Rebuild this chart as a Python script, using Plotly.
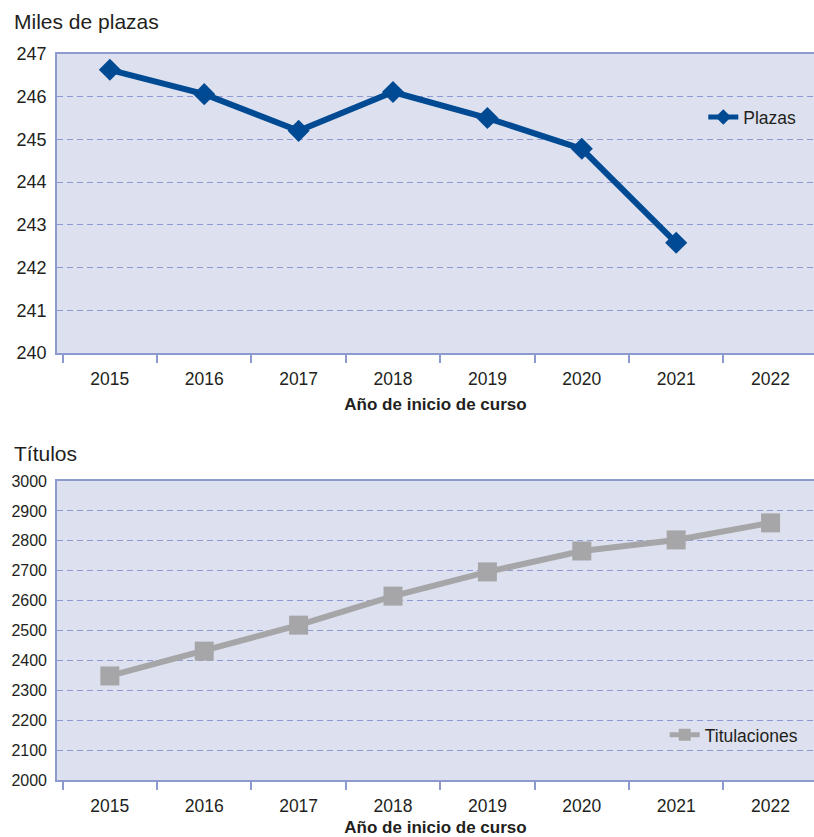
import plotly.graph_objects as go

# Course start years
years = [2015, 2016, 2017, 2018, 2019, 2020, 2021, 2022]

# Offered places (thousands); no figure yet for 2022
plazas = [246.63, 246.06, 245.20, 246.11, 245.50, 244.78, 242.58, None]

# Number of degrees offered
titulaciones = [2348, 2431, 2518, 2615, 2696, 2766, 2803, 2860]

BLUE = "#004A93"
GREY = "#A6A6A8"
BG = "#DDE1EF"
AXIS = "#8D9ACF"
GRID = "#8E9BD3"
TXT = "#231F20"
FONT = "Liberation Sans, Arial, sans-serif"

fig = go.Figure()

fig.add_trace(go.Scatter(
    x=years, y=plazas, name="Plazas", mode="lines+markers",
    line=dict(color=BLUE, width=6),
    marker=dict(symbol="diamond", size=17, color=BLUE),
    xaxis="x", yaxis="y", legend="legend", showlegend=True,
))
fig.add_trace(go.Scatter(
    x=years, y=titulaciones, name="Titulaciones", mode="lines+markers",
    line=dict(color=GREY, width=6),
    marker=dict(symbol="square", size=19, color=GREY),
    xaxis="x2", yaxis="y2", legend="legend2", showlegend=True,
))

xcommon = dict(
    range=[2014.44, 2022.46], tickvals=years, ticks="", showgrid=False,
    tickfont=dict(family=FONT, size=17.5, color=TXT),
    ticklabelstandoff=9,
    minor=dict(tick0=2014.5, dtick=1, ticks="outside", ticklen=8,
               tickcolor=AXIS, tickwidth=1.5, showgrid=False),
    showline=True, linecolor=AXIS, linewidth=1.5, mirror=True,
    zeroline=False, automargin=False,
    title=dict(text="<b>Año de inicio de curso</b>",
               font=dict(family=FONT, size=17, color=TXT), standoff=10),
)
ycommon = dict(
    showgrid=True, gridcolor=GRID, griddash="6px,4px", gridwidth=1,
    showline=True, linecolor=AXIS, linewidth=1.5, mirror=True,
    zeroline=False, ticks="", ticklabelstandoff=5, automargin=False,
)

legend_common = dict(xanchor="left", yanchor="middle", visible=True,
                     itemsizing="constant", bgcolor="rgba(0,0,0,0)",
                     font=dict(family=FONT, size=17.5, color=TXT))

fig.update_layout(
    width=814, height=837,
    margin=dict(l=0, r=0, t=0, b=0),
    paper_bgcolor="white", plot_bgcolor=BG,
    showlegend=True,
    xaxis=dict(domain=[0.070, 1.0], anchor="y", **xcommon),
    yaxis=dict(domain=[0.5783, 0.9355], anchor="x", range=[240, 247], dtick=1,
               tickfont=dict(family=FONT, size=18, color=TXT), **ycommon),
    xaxis2=dict(domain=[0.070, 1.0], anchor="y2", **xcommon),
    yaxis2=dict(domain=[0.0681, 0.4253], anchor="x2", range=[2000, 3000],
                dtick=100, tickfont=dict(family=FONT, size=16, color=TXT), **ycommon),
    legend=dict(x=0.864, y=0.860, **legend_common),
    legend2=dict(x=0.8166, y=0.1219, **legend_common),
    annotations=[
        dict(text="Miles de plazas", x=12 / 814, y=1 - 22 / 837, xref="paper", yref="paper",
             xanchor="left", yanchor="middle", showarrow=False,
             font=dict(family=FONT, size=21, color=TXT)),
        dict(text="Títulos", x=12 / 814, y=1 - 453 / 837, xref="paper", yref="paper",
             xanchor="left", yanchor="middle", showarrow=False,
             font=dict(family=FONT, size=21, color=TXT)),
    ],
)

fig.write_html("out.html")
